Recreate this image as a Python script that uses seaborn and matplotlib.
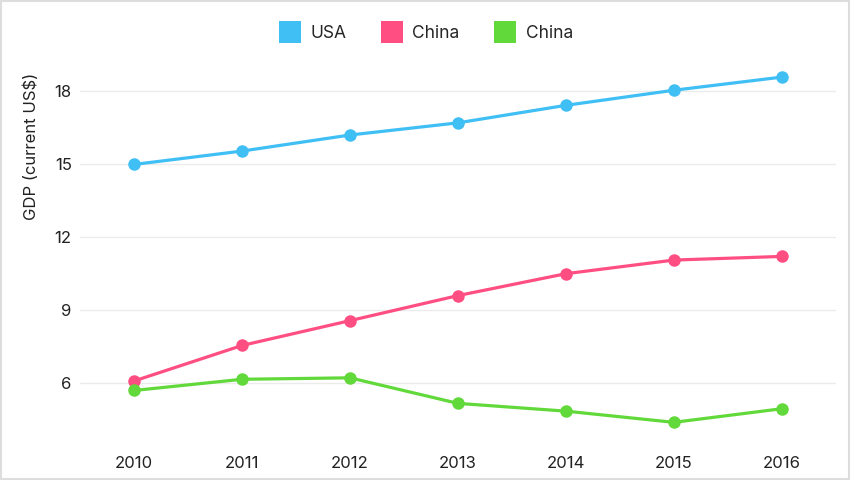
import matplotlib
matplotlib.use("Agg")
import matplotlib.pyplot as plt
from matplotlib.lines import Line2D
from matplotlib.patches import Rectangle
import seaborn as sns
import pandas as pd

# chart data (GDP, trillions of current US$)
years = [2010, 2011, 2012, 2013, 2014, 2015, 2016]
usa = [14.99, 15.54, 16.20, 16.70, 17.42, 18.04, 18.58]
china = [6.09, 7.55, 8.57, 9.60, 10.50, 11.06, 11.21]
green = [5.70, 6.16, 6.22, 5.17, 4.85, 4.39, 4.95]
series_names = ["USA", "China", "China"]
colors = ["#40BFF5", "#FF4F82", "#62D93A"]
y_ticks = [6, 9, 12, 15, 18]

sns.set_theme(style="white")
plt.rcParams['font.family'] = ['Inter', 'DejaVu Sans']

fig = plt.figure(figsize=(8.52, 4.8), dpi=100)
ax = fig.add_axes([0.094, 0.075, 0.887, 0.811])

for vals, name, col in zip([usa, china, green], series_names, colors):
    df = pd.DataFrame({"year": years, "gdp": vals})
    sns.lineplot(data=df, x="year", y="gdp", ax=ax, color=col, linewidth=2.3,
                 marker="o", markersize=9, markeredgewidth=0, label=name)

ax.set_xlim(2009.5, 2016.5)
ax.set_ylim(3.5, 19.5)
ax.set_xticks(years)
ax.set_xticklabels([str(y) for y in years])
ax.set_yticks(y_ticks)
ax.tick_params(axis="both", length=0, labelsize=12, colors="#222222")
ax.tick_params(axis="y", pad=6)
ax.tick_params(axis="x", pad=9)
ax.grid(axis="y", color="#ebebeb", linewidth=1)
ax.set_axisbelow(True)
for s in ax.spines.values():
    s.set_visible(False)
ax.set_xlabel("")
ax.set_ylabel("GDP (current US$)", fontsize=12, color="#222222")
ax.yaxis.set_label_coords(-0.054, 0.765)

# legend with square swatches
handles = [Line2D([], [], linestyle="none", marker="s", markersize=16,
                  markerfacecolor=c, markeredgewidth=0) for c in colors]
ax.legend(handles, series_names, loc="center", bbox_to_anchor=(0.5, 0.93),
          bbox_transform=fig.transFigure, ncol=3, frameon=False, fontsize=12.5,
          handlelength=1.2, handletextpad=0.6, columnspacing=2.0)

# light border around the figure
fig.add_artist(Rectangle((0.001, 0.002), 0.996, 0.995, transform=fig.transFigure,
                         fill=False, edgecolor="#dddddd", linewidth=1.5))

fig.savefig("out.png", dpi=100)
